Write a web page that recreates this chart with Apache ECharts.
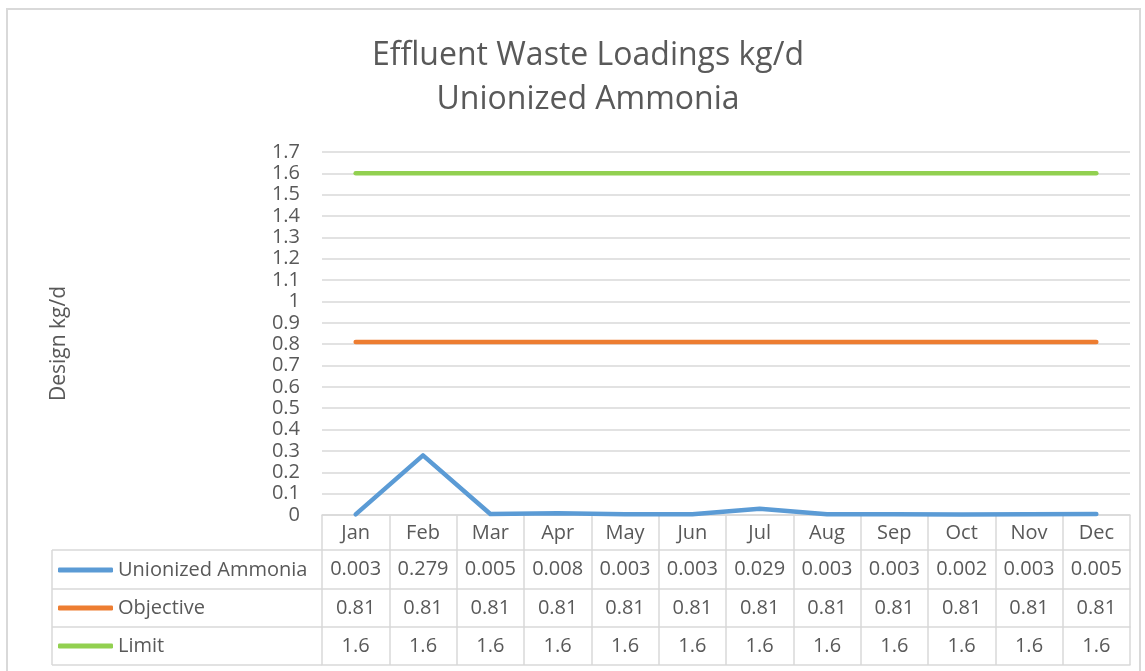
<!DOCTYPE html>
<html><head><meta charset="utf-8">
<script src="https://cdn.jsdelivr.net/npm/echarts@6/dist/echarts.min.js"></script>
<style>html,body{margin:0;padding:0;background:#fff}#c{width:1145px;height:671px}</style>
</head><body><div id="c"></div>
<script>
const months = ['Jan','Feb','Mar','Apr','May','Jun','Jul','Aug','Sep','Oct','Nov','Dec'];
const ammonia = [0.003,0.279,0.005,0.008,0.003,0.003,0.029,0.003,0.003,0.002,0.003,0.005];
const objective = [0.81,0.81,0.81,0.81,0.81,0.81,0.81,0.81,0.81,0.81,0.81,0.81];
const limit = [1.6,1.6,1.6,1.6,1.6,1.6,1.6,1.6,1.6,1.6,1.6,1.6];
const seriesNames = ['Unionized Ammonia','Objective','Limit'];
const colors = ['#5b9bd5','#ed7d31','#92d050'];

const FONT = 'Open Sans';
const TXT = '#595959';
const GRID = '#d9d9d9';
const FS = 20;
const chart = echarts.init(document.getElementById('c'), null, {renderer:'canvas'});

const rowOffsets = [35, 74, 112, 150];
const rowData = [ammonia, objective, limit];
const extraAxes = rowOffsets.map((off, k) => ({
  type:'category', data: months, gridIndex:0, position:'bottom', offset: off,
  boundaryGap:true,
  axisLine:{show:true, lineStyle:{color:GRID, width:1.5}},
  axisTick:{show:false},
  axisLabel:{show: k < 3, interval:0, margin:9, color:TXT, fontFamily:FONT, fontSize:FS, lineHeight:20,
    formatter:(v, i) => k < 3 ? String(rowData[k][i]) : ''},
  splitLine:{show:false}
}));

const option = {
  animation:false,
  textStyle:{fontFamily:FONT},
  title:{
    text:'Effluent Waste Loadings kg/d\nUnionized Ammonia',
    left: 583, textAlign:'center', top:29,
    textStyle:{fontFamily:FONT, fontSize:32, fontWeight:'normal', color:TXT, lineHeight:44}
  },
  legend:{
    data: seriesNames, orient:'vertical', left:58, top:560, itemGap:18, padding:0,
    itemWidth:55, itemHeight:5, icon:'roundRect', selectedMode:false,
    textStyle:{fontFamily:FONT, fontSize:FS, color:TXT, lineHeight:20, padding:[0,0,0,0]}
  },
  grid:{left:322, right:15, top:152, bottom:156, containLabel:false},
  xAxis:[{
    type:'category', data: months, boundaryGap:true,
    axisLine:{show:true, lineStyle:{color:GRID, width:1.5}},
    axisTick:{show:true, length:150, lineStyle:{color:GRID, width:1.5}, interval:0},
    axisLabel:{interval:0, margin:8, color:TXT, fontFamily:FONT, fontSize:FS, lineHeight:20},
    splitLine:{show:false}
  }].concat(extraAxes),
  yAxis:{
    type:'value', min:0, max:1.7, interval:0.1,
    name:'Design kg/d', nameLocation:'middle', nameGap:252, nameRotate:90,
    nameTextStyle:{fontFamily:FONT, fontSize:21, color:TXT, padding:[0,20,0,0]},
    axisLine:{show:false}, axisTick:{show:false},
    axisLabel:{color:TXT, fontFamily:FONT, fontSize:FS, margin:22, lineHeight:20,
      formatter:v => String(+v.toFixed(1))},
    splitLine:{lineStyle:{color:GRID, width:1.5}}
  },
  series:[ammonia, objective, limit].map((d,i) => ({
    name: seriesNames[i], type:'line', data:d, xAxisIndex:0,
    symbol:'none', showSymbol:false, color:colors[i],
    lineStyle:{color:colors[i], width:4.5, cap:'round', join:'round'}
  })),
  graphic:[
    {type:'rect', shape:{x:7, y:9, width:1133, height:680}, style:{fill:'none', stroke:GRID, lineWidth:2}, silent:true},
    ...[550, 589, 627, 665].map(y => ({type:'line', shape:{x1:52, y1:y, x2:322, y2:y}, style:{stroke:GRID, lineWidth:1.5}, silent:true})),
    {type:'line', shape:{x1:52, y1:550, x2:52, y2:665}, style:{stroke:GRID, lineWidth:1.5}, silent:true}
  ]
};
chart.setOption(option);
</script></body></html>
